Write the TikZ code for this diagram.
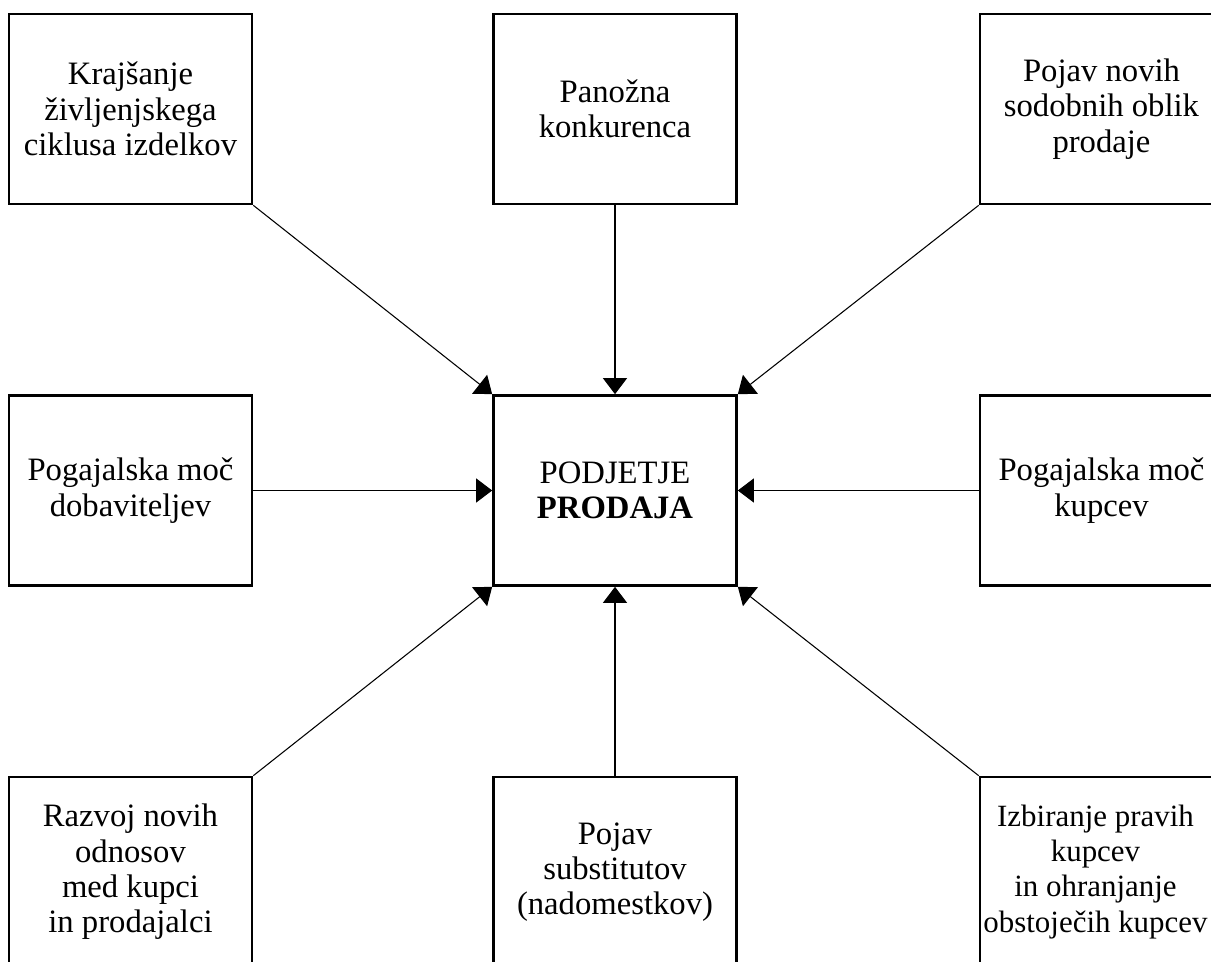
\documentclass[tikz,border=0pt]{standalone}
\usepackage{fontspec}
\setmainfont{Liberation Serif}
\usetikzlibrary{arrows.meta}
\begin{document}
\begin{tikzpicture}[x=0.75pt,y=-0.75pt,
  box/.style={draw, line width=2pt, minimum width=182.25pt, minimum height=142.5pt,
    inner sep=0pt, align=center, font=\fontsize{24.5}{26.5}\selectfont},
  link/.style={line width=0.8pt, -{Triangle[length=12pt,width=18pt]}}]
\clip (0,0) rectangle (1211,962);
% central box
\node[box] (c) at (615,490.5) {PODJETJE\\\textbf{PRODAJA}};
% surrounding forces
\node[box] (tl) at (130.5,109) {Krajšanje\\življenjskega\\ciklusa izdelkov};
\node[box] (tc) at (615,109) {Panožna\\konkurenca};
\node[box] (tr) at (1101.5,109) {Pojav novih\\sodobnih oblik\\prodaje};
\node[box] (ml) at (130.5,490.5) {Pogajalska moč\\dobaviteljev};
\node[box] (mr) at (1101.5,490.5) {Pogajalska moč\\kupcev};
\node[box] (bl) at (130.5,872) {Razvoj novih\\odnosov\\med kupci\\in prodajalci};
\node[box] (bc) at (615,872) {Pojav\\substitutov\\(nadomestkov)};
% slightly tighter text, set a little to the left, so the widest line fits
\node[box, align=none, font=\fontsize{23.2}{26.5}\selectfont] (br) at (1101.5,872)
  {\kern-9pt\begin{tabular}{@{}c@{}}Izbiranje pravih\\kupcev\\in ohranjanje\\obstoječih kupcev\end{tabular}};
% connectors into the centre
\draw[link] (tl.south east) -- (c.north west);
\draw[link] (tc.south) -- (c.north);
\draw[link] (tr.south west) -- (c.north east);
\draw[link] (ml.east) -- (c.west);
\draw[link] (mr.west) -- (c.east);
\draw[link] (bl.north east) -- (c.south west);
\draw[link] (bc.north) -- (c.south);
\draw[link] (br.north west) -- (c.south east);
\end{tikzpicture}
\end{document}
